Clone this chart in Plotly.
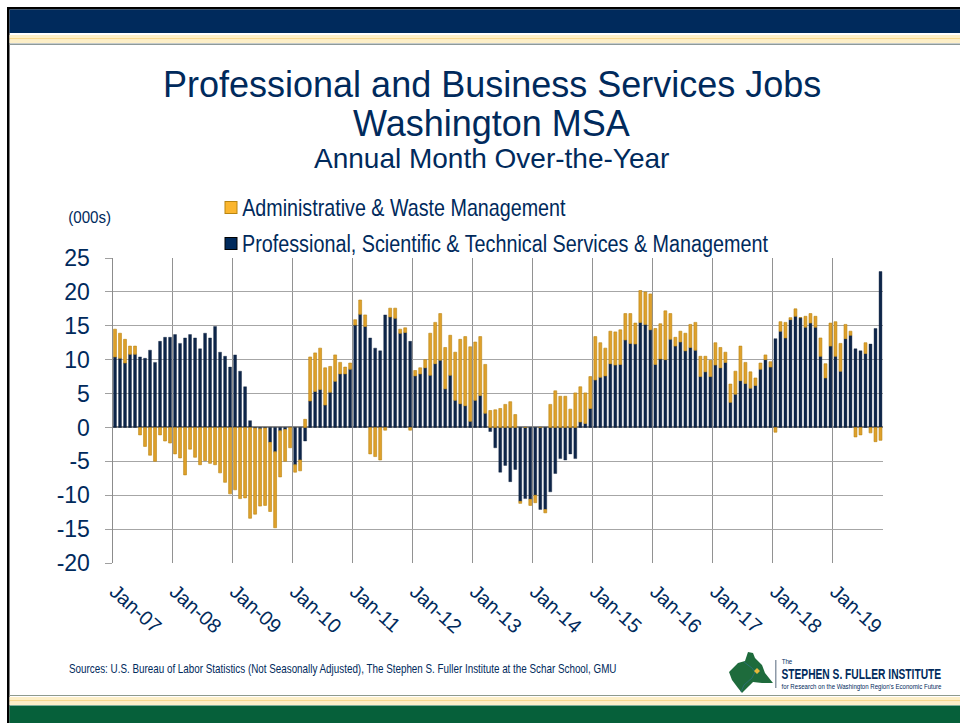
import json
import plotly.graph_objs as go

W = 960
H = 723

# month labels, Jan-07 to Oct-19
years = ["07", "08", "09", "10", "11", "12", "13", "14", "15", "16", "17", "18", "19"]
month_names = ["Jan", "Feb", "Mar", "Apr", "May", "Jun", "Jul", "Aug", "Sep", "Oct", "Nov", "Dec"]
months = [m + "-" + y for y in years for m in month_names][:154]

professional = [
    10.4, 10.2, 9.5, 10.8, 10.8, 10.4, 10.2, 11.4, 9.6, 12.7, 13.3, 13.3,
    13.7, 12.4, 13.2, 13.7, 13.2, 11.6, 13.9, 13.2, 14.9, 11.1, 10.5, 8.9,
    10.7, 8.3, 6.0, 1.0, -0.1, -0.2, -0.1, -2.2, -3.6, -0.5, -0.3, 0.0,
    -5.5, -4.8, -2.0, 3.9, 5.3, 5.6, 3.3, 5.2, 6.8, 7.9, 7.9, 8.6,
    15.1, 16.7, 14.9, 13.2, 11.7, 11.3, 16.6, 16.3, 16.1, 13.9, 14.0, 12.7,
    7.6, 7.9, 8.8, 7.7, 9.4, 9.9, 5.7, 7.7, 4.0, 3.5, 3.2, 0.9,
    4.0, 4.7, 2.1, -0.6, -3.0, -6.6, -5.6, -8.0, -6.2, -10.9, -10.5, -10.6,
    -10.0, -12.1, -12.1, -9.5, -6.8, -4.6, -4.8, -3.9, -4.6, 0.8, 0.6, 2.8,
    7.0, 7.4, 7.6, 9.4, 9.2, 9.3, 12.9, 12.4, 12.3, 15.5, 15.2, 14.4,
    9.3, 10.1, 10.0, 13.0, 12.0, 12.6, 11.3, 11.8, 11.4, 7.5, 8.2, 7.5,
    9.2, 8.8, 9.6, 3.7, 4.9, 6.9, 6.5, 5.8, 6.2, 8.6, 10.0, 8.9,
    13.1, 14.2, 13.2, 15.9, 16.4, 16.2, 14.8, 15.4, 14.8, 10.5, 7.3, 12.0,
    10.5, 8.3, 13.1, 13.6, 11.6, 11.3, 10.9, 12.3, 14.6, 23.0,
]

administrative = [
    4.1, 3.7, 3.5, 1.2, 1.2, -1.1, -2.8, -4.1, -5.0, -1.1, -2.0, -2.3,
    -3.9, -4.5, -7.0, -3.2, -4.4, -5.5, -4.9, -5.3, -5.5, -6.7, -8.1, -9.8,
    -9.2, -10.5, -10.4, -13.4, -12.7, -11.4, -11.4, -10.2, -11.2, -6.8, -4.7, -3.0,
    -1.1, -1.6, 1.2, 6.5, 5.7, 6.1, 5.5, 3.8, 3.9, 1.7, 1.0, 0.9,
    0.8, 2.1, 1.7, -3.9, -4.3, -4.8, -0.4, 1.3, 1.5, 0.6, 0.7, -0.4,
    0.8, 0.9, 1.2, 6.2, 6.1, 6.9, 6.1, 5.9, 7.1, 9.5, 10.2, 11.0,
    8.6, 8.7, 7.2, 2.5, 2.6, 2.8, 3.4, 3.8, 1.9, -0.3, 0.0, -0.9,
    -1.1, 0.0, -0.5, 3.4, 5.4, 4.6, 4.6, 2.7, 5.1, 5.2, 4.5, 4.7,
    6.4, 5.1, 4.1, 4.8, 4.9, 5.1, 3.9, 4.4, 3.1, 4.7, 4.8, 5.3,
    5.3, 5.2, 7.2, 3.8, 1.3, 1.6, 2.6, 3.4, 4.1, 3.0, 2.3, 2.4,
    3.3, 3.0, 1.5, 2.7, 3.4, 5.1, 3.1, 2.4, 1.1, 0.9, 0.7, 0.8,
    -0.7, 1.4, 2.3, 0.3, 1.1, 0.0, 1.6, 1.4, 1.6, 2.7, 2.1, 3.4,
    5.1, 4.1, 2.1, 0.6, -1.4, -1.1, 1.6, -0.8, -2.1, -1.9,
]

y_ticks = [25, 20, 15, 10, 5, 0, -5, -10, -15, -20]
y_tick_labels = ["25", "20", "15", "10", "5", "0", "-5", "-10", "-15", "-20"]

NAVY = "#002A5C"
BAR_NAVY = "#0D2549"
GOLD = "#DFA02B"
GOLD_EDGE = "#B98510"
GREEN = "#06603A"
SANS = "Liberation Sans"

# the reference sets these in a condensed face, so squeeze them to the measured width
squeezed = {}


def px(x):
    return x / W


def py(y):
    return 1 - y / H


def band(x0, y0, x1, y1, color):
    """rectangle in page pixels"""
    return dict(
        type="rect", xref="paper", yref="paper", layer="below",
        x0=px(x0), x1=px(x1), y0=py(y0), y1=py(y1),
        fillcolor=color, line_width=0,
    )


def polygon(points, color):
    path = "M" + " L".join(f"{px(a):.5f},{py(b):.5f}" for a, b in points) + " Z"
    return dict(
        type="path", xref="paper", yref="paper", layer="below",
        path=path, fillcolor=color, line_width=0,
    )


def polyline(points, color):
    path = "M" + " L".join(f"{px(a):.5f},{py(b):.5f}" for a, b in points)
    return dict(
        type="path", xref="paper", yref="paper", layer="below",
        path=path, line=dict(color=color, width=0.8),
    )


def label(text, x, y, size, color=NAVY, bold=False):
    return dict(
        text=f"<b>{text}</b>" if bold else text,
        xref="paper", yref="paper", x=px(x), y=py(y),
        xanchor="center", yanchor="middle", showarrow=False,
        font=dict(family=SANS, size=size, color=color),
    )


def narrow(text, left, width, y, size, bold=False):
    squeezed[text] = width
    return label(text, left + width / 2, y, size, bold=bold)


fig = go.Figure()

# navy first so it sits next to the zero line
fig.add_trace(go.Bar(
    x=months, y=professional, name="Professional, Scientific & Technical Services & Management",
    marker=dict(color=BAR_NAVY, line=dict(color="#11233F", width=0.4)),
))
fig.add_trace(go.Bar(
    x=months, y=administrative, name="Administrative & Waste Management",
    marker=dict(color=GOLD, line=dict(color=GOLD_EDGE, width=0.6)),
))

##################
# PAGE FURNITURE #
##################
shapes = [
    band(7, 7, 960, 9.5, "#000000"),
    band(7, 7, 9.5, 723, "#000000"),
    band(9.5, 9.5, 960, 33, "#002A5C"),
    band(9.5, 35, 960, 38, "#FDEFC8"),
    band(9.5, 38, 960, 39.5, "#F6D88E"),
    band(9.5, 39.5, 960, 43, "#FDEFC8"),
    band(9.5, 43.5, 960, 45, "#8E9A9A"),
    band(9.5, 695, 960, 696, "#8E9A8E"),
    band(9.5, 697, 960, 700, "#FDEFC8"),
    band(9.5, 700, 960, 701.5, "#F6D88E"),
    band(9.5, 701.5, 960, 705, "#FDEFC8"),
    band(9.5, 705.5, 960, 723, GREEN),
    # legend keys
    band(224.5, 201, 237.5, 214, GOLD_EDGE),
    band(225.5, 202, 236.5, 213, "#FBB62F"),
    band(224.5, 237, 237.5, 250, "#000000"),
    band(225.5, 238, 236.5, 249, NAVY),
    # logo
    polygon([
        (729, 672), (738, 663), (745, 661), (748, 652), (753, 653), (755, 658),
        (762, 665), (765, 673), (773, 683), (762, 683), (753, 682), (742, 693),
        (738, 688), (732, 680),
    ], "#1E6B3C"),
    polyline([(744, 662), (752, 668), (755, 672), (752, 678), (744, 685), (741, 692)], "#2E6E7E"),
    polygon([(757, 668), (760, 671), (757, 674), (754, 671)], "#E8B73A"),
    band(775, 660, 776.5, 688, "#8E9AA8"),
]

annotations = [
    label("Professional and Business Services Jobs", 491.5, 84, 36),
    label("Washington MSA", 491.5, 123, 36),
    label("Annual Month Over-the-Year", 491.5, 158, 28),
    narrow("(000s)", 68, 43, 217, 16),
    narrow("Administrative &amp; Waste Management", 242, 324, 208, 23),
    narrow("Professional, Scientific &amp; Technical Services &amp; Management", 242, 527, 244, 23),
    narrow("Sources: U.S. Bureau of Labor Statistics (Not Seasonally Adjusted), The Stephen S. Fuller Institute at the Schar School, GMU",
           68, 548, 669, 12),
    narrow("The", 781, 11, 661, 8),
    narrow("STEPHEN S. FULLER INSTITUTE", 781, 160, 673.5, 14, bold=True),
    narrow("for Research on the Washington Region's Economic Future", 781, 160, 686, 7.5),
]

fig.update_layout(
    width=W,
    height=H,
    margin=dict(l=0, r=0, t=0, b=0, autoexpand=False),
    paper_bgcolor="white",
    plot_bgcolor="white",
    barmode="relative",
    bargap=0.42,
    showlegend=False,
    shapes=shapes,
    annotations=annotations,
    xaxis=dict(
        type="category",
        automargin=False,
        domain=[px(112.5), px(883)],
        range=[-0.5, 153.5],
        tickson="boundaries",
        tickmode="linear",
        tick0=0,
        dtick=12,
        tickangle=42,
        ticks="",
        ticklabelstandoff=12,
        showgrid=True,
        gridcolor="#929292",
        gridwidth=1,
        showline=False,
        tickfont=dict(family=SANS, size=20, color=NAVY),
    ),
    yaxis=dict(
        automargin=False,
        domain=[py(563), py(258)],
        range=[-20, 25],
        tickmode="array",
        tickvals=y_ticks,
        ticktext=y_tick_labels,
        ticks="outside",
        ticklen=7,
        tickcolor="#A0A0A0",
        ticklabelstandoff=10,
        showgrid=True,
        gridcolor="#A6A6A6",
        gridwidth=1.2,
        zeroline=True,
        zerolinecolor="#8A8A8A",
        zerolinewidth=2,
        showline=True,
        linecolor="#8C8C8C",
        linewidth=1,
        tickfont=dict(family=SANS, size=23, color=NAVY),
    ),
)

squeeze_script = """
document.body.style.margin = '0';
var widths = %s;
document.querySelectorAll('.annotation-text').forEach(function (t) {
    var w = widths[t.textContent];
    if (w) {
        var b = t.getBBox();
        var c = b.x + b.width / 2;
        t.setAttribute('transform', 'translate(' + c + ' 0) scale(' + (w / b.width) + ' 1) translate(' + (-c) + ' 0)');
        var bg = t.parentNode.parentNode.querySelector('rect.bg');
        if (bg) {
            var bx = parseFloat(bg.getAttribute('x')) || 0;
            var bw = parseFloat(bg.getAttribute('width')) || 0;
            bg.setAttribute('x', bx + (bw - w) / 2);
            bg.setAttribute('width', w);
        }
    }
});
""" % json.dumps({k.replace("&amp;", "&"): v for k, v in squeezed.items()})

fig.write_html("out.html", post_script=squeeze_script, config={"displayModeBar": False})
